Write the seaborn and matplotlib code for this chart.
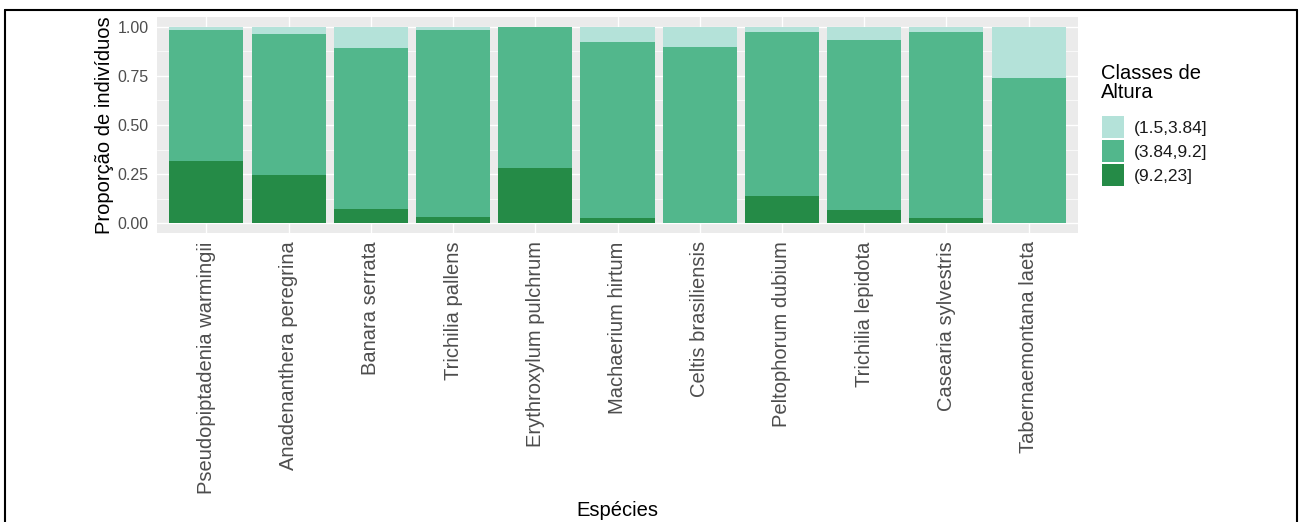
import matplotlib
matplotlib.use("Agg")
import matplotlib.pyplot as plt
from matplotlib.lines import Line2D
from matplotlib.patches import Patch
from matplotlib.ticker import MultipleLocator
import numpy as np
import pandas as pd
import seaborn as sns

species = ["Pseudopiptadenia warmingii", "Anadenanthera peregrina", "Banara serrata",
           "Trichilia pallens", "Erythroxylum pulchrum", "Machaerium hirtum",
           "Celtis brasiliensis", "Peltophorum dubium", "Trichilia lepidota",
           "Casearia sylvestris", "Tabernaemontana laeta"]
classes = ["(1.5,3.84]", "(3.84,9.2]", "(9.2,23]"]
prop_small = [0.017, 0.037, 0.107, 0.017, 0.000, 0.079, 0.102, 0.027, 0.069, 0.027, 0.261]
prop_mid = [0.665, 0.717, 0.820, 0.951, 0.719, 0.896, 0.898, 0.834, 0.863, 0.948, 0.739]
prop_tall = [0.318, 0.246, 0.073, 0.032, 0.281, 0.025, 0.000, 0.139, 0.068, 0.025, 0.000]
colors = ["#B4E2D9", "#52B78C", "#258B47"]

df = pd.DataFrame({"species": species, "small": prop_small, "mid": prop_mid, "tall": prop_tall})
df["c_tall"] = df["tall"]
df["c_mid"] = df["tall"] + df["mid"]
df["c_all"] = df["tall"] + df["mid"] + df["small"]

sns.set_theme(style="darkgrid")
plt.rcParams["font.family"] = ["Liberation Sans", "DejaVu Sans"]

fig = plt.figure(figsize=(13, 5.22), dpi=100)
ax = fig.add_axes([157 / 1300, 1 - 233 / 522, 921 / 1300, 216 / 522])
ax.set_facecolor("#EBEBEB")

for col, c in zip(["c_all", "c_mid", "c_tall"], colors):
    sns.barplot(data=df, x="species", y=col, color=c, width=0.9, saturation=1,
                linewidth=0, edgecolor="none", ax=ax, order=species)

ax.set_xlim(-0.6, len(species) - 0.4)
ax.set_ylim(-0.05, 1.05)
ax.yaxis.set_major_locator(MultipleLocator(0.25))
ax.yaxis.set_minor_locator(MultipleLocator(0.125))
ax.set_yticks([0, 0.25, 0.5, 0.75, 1.0])
ax.set_yticklabels(["0.00", "0.25", "0.50", "0.75", "1.00"])
ax.set_axisbelow(True)
ax.grid(True, which="major", axis="both", color="white", linewidth=1.0)
ax.grid(True, which="minor", axis="y", color="white", linewidth=0.5)
for s in ax.spines.values():
    s.set_visible(False)

ax.tick_params(axis="x", which="major", length=4, width=0.8, color="#333333",
               labelsize=14.5, labelcolor="#4D4D4D", pad=2, rotation=90)
ax.tick_params(axis="y", which="major", length=4, width=0.8, color="#333333",
               labelsize=11.5, labelcolor="#4D4D4D", pad=2)
ax.tick_params(axis="y", which="minor", length=0)

ax.set_xlabel("Espécies", fontsize=14.5, color="black")
ax.set_ylabel("Proporção de indivíduos", fontsize=14.5, color="black")
ax.yaxis.set_label_coords(-0.047, 0.5)
ax.xaxis.set_label_coords(0.5, -1.24)

# legend
fig.text(1101 / 1300, 1 - 64 / 522, "Classes de\nAltura", fontsize=14.5, ha="left",
         va="top", linespacing=1.0, color="black")
handles = [Patch(facecolor=c, edgecolor="none", label=l) for c, l in zip(colors, classes)]
leg = fig.legend(handles=handles, loc="upper left",
                 bbox_to_anchor=(1102 / 1300, 1 - 116 / 522), frameon=False,
                 fontsize=12.5, handlelength=1.267, handleheight=1.573,
                 labelspacing=0.12, handletextpad=0.58,
                 borderaxespad=0, borderpad=0)
for t in leg.get_texts():
    t.set_color("#1A1A1A")

# page frame
lw = 1.5
fig.add_artist(Line2D([5 / 1300, 1297 / 1300], [1 - 10 / 522, 1 - 10 / 522],
                      transform=fig.transFigure, color="black", linewidth=lw))
fig.add_artist(Line2D([5 / 1300, 5 / 1300], [0, 1 - 10 / 522],
                      transform=fig.transFigure, color="black", linewidth=lw))
fig.add_artist(Line2D([1297 / 1300, 1297 / 1300], [0, 1 - 10 / 522],
                      transform=fig.transFigure, color="black", linewidth=lw))

fig.savefig("out.png", dpi=100)
